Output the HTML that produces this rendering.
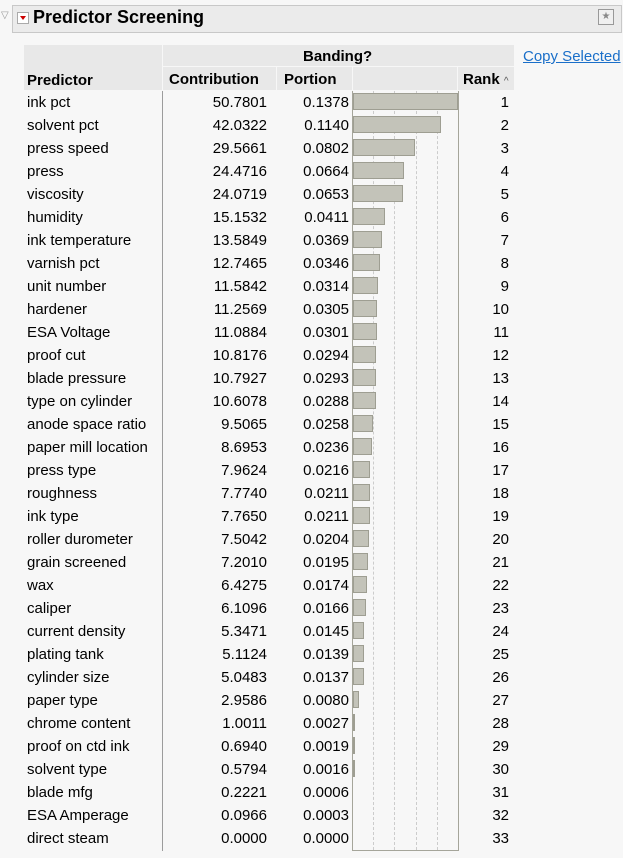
<!DOCTYPE html>
<html><head><meta charset="utf-8"><style>
body{margin:0;width:623px;height:858px;background:#f7f7f7;font-family:"Liberation Sans",sans-serif;font-size:15px;color:#000;position:relative;overflow:hidden}
.a{position:absolute}
.hdr{left:12px;top:5px;width:608px;height:26px;background:#ebebeb;border:1px solid #c8c8c8}
.title{left:33px;top:7px;font-size:18px;font-weight:bold}
.hc{background:#e8e8e8;position:absolute}
.b{font-weight:bold}
.row{position:absolute;left:24px;height:23px;width:490px;line-height:23px}
.row span{position:absolute}
.n{left:3px}
.c{right:247px;text-align:right}
.p{right:165px;text-align:right}
.r{right:5px;text-align:right}
.bar{position:absolute;left:329px;top:2px;height:17px;background:#c3c3b9;border:1px solid #9e9e92;box-sizing:border-box}
</style></head><body>
<div class="a" style="left:1px;top:10px;color:#999;font-size:10px">▽</div>
<div class="a hdr"></div>
<div class="a" style="left:17px;top:12px;width:12px;height:12px;border:1px solid #aaa;background:#fff;box-sizing:border-box"><div style="margin:3px 0 0 2px;width:0;height:0;border-left:3px solid transparent;border-right:3px solid transparent;border-top:4px solid #c00"></div></div>
<div class="a title">Predictor Screening</div>
<div class="a" style="left:598px;top:9px;width:16px;height:16px;border:1px solid #999;background:#f0f0f0;box-sizing:border-box;font-size:10px;color:#888;text-align:center;line-height:14px">★</div>

<div class="hc" style="left:24px;top:45px;width:138px;height:45px"></div>
<div class="hc" style="left:163px;top:45px;width:351px;height:21px"></div>
<div class="hc" style="left:163px;top:67px;width:113px;height:23px"></div>
<div class="hc" style="left:277px;top:67px;width:75px;height:23px"></div>
<div class="hc" style="left:353px;top:67px;width:104px;height:23px"></div>
<div class="hc" style="left:458px;top:67px;width:56px;height:23px"></div>
<div class="a b" style="left:303px;top:48px">Banding?</div>
<div class="a b" style="left:27px;top:72px">Predictor</div>
<div class="a b" style="left:169px;top:71px">Contribution</div>
<div class="a b" style="left:284px;top:71px">Portion</div>
<div class="a b" style="left:463px;top:71px">Rank <span style="font-weight:normal;font-size:10px;color:#555">^</span></div>
<div class="a" style="left:523px;top:48px;color:#1a6fc9;text-decoration:underline;font-size:15px">Copy Selected</div>
<div class="a" style="left:162px;top:91px;width:1px;height:760px;background:#9c9c9c"></div>

<div class="a" style="left:352px;top:91px;width:105px;height:759px;border:1px solid #a5a59a;border-top:none;box-sizing:content-box"></div>
<div class="a" style="left:373px;top:91px;height:759px;border-left:1px dashed #ccc"></div>
<div class="a" style="left:394px;top:91px;height:759px;border-left:1px dashed #ccc"></div>
<div class="a" style="left:416px;top:91px;height:759px;border-left:1px dashed #ccc"></div>
<div class="a" style="left:437px;top:91px;height:759px;border-left:1px dashed #ccc"></div>

<div class="row" style="top:91px"><span class="n">ink pct</span><span class="c">50.7801</span><span class="p">0.1378</span><div class="bar" style="width:105px"></div><span class="r">1</span></div>
<div class="row" style="top:114px"><span class="n">solvent pct</span><span class="c">42.0322</span><span class="p">0.1140</span><div class="bar" style="width:88px"></div><span class="r">2</span></div>
<div class="row" style="top:137px"><span class="n">press speed</span><span class="c">29.5661</span><span class="p">0.0802</span><div class="bar" style="width:62px"></div><span class="r">3</span></div>
<div class="row" style="top:160px"><span class="n">press</span><span class="c">24.4716</span><span class="p">0.0664</span><div class="bar" style="width:51px"></div><span class="r">4</span></div>
<div class="row" style="top:183px"><span class="n">viscosity</span><span class="c">24.0719</span><span class="p">0.0653</span><div class="bar" style="width:50px"></div><span class="r">5</span></div>
<div class="row" style="top:206px"><span class="n">humidity</span><span class="c">15.1532</span><span class="p">0.0411</span><div class="bar" style="width:32px"></div><span class="r">6</span></div>
<div class="row" style="top:229px"><span class="n">ink temperature</span><span class="c">13.5849</span><span class="p">0.0369</span><div class="bar" style="width:29px"></div><span class="r">7</span></div>
<div class="row" style="top:252px"><span class="n">varnish pct</span><span class="c">12.7465</span><span class="p">0.0346</span><div class="bar" style="width:27px"></div><span class="r">8</span></div>
<div class="row" style="top:275px"><span class="n">unit number</span><span class="c">11.5842</span><span class="p">0.0314</span><div class="bar" style="width:25px"></div><span class="r">9</span></div>
<div class="row" style="top:298px"><span class="n">hardener</span><span class="c">11.2569</span><span class="p">0.0305</span><div class="bar" style="width:24px"></div><span class="r">10</span></div>
<div class="row" style="top:321px"><span class="n">ESA Voltage</span><span class="c">11.0884</span><span class="p">0.0301</span><div class="bar" style="width:24px"></div><span class="r">11</span></div>
<div class="row" style="top:344px"><span class="n">proof cut</span><span class="c">10.8176</span><span class="p">0.0294</span><div class="bar" style="width:23px"></div><span class="r">12</span></div>
<div class="row" style="top:367px"><span class="n">blade pressure</span><span class="c">10.7927</span><span class="p">0.0293</span><div class="bar" style="width:23px"></div><span class="r">13</span></div>
<div class="row" style="top:390px"><span class="n">type on cylinder</span><span class="c">10.6078</span><span class="p">0.0288</span><div class="bar" style="width:23px"></div><span class="r">14</span></div>
<div class="row" style="top:413px"><span class="n">anode space ratio</span><span class="c">9.5065</span><span class="p">0.0258</span><div class="bar" style="width:20px"></div><span class="r">15</span></div>
<div class="row" style="top:436px"><span class="n">paper mill location</span><span class="c">8.6953</span><span class="p">0.0236</span><div class="bar" style="width:19px"></div><span class="r">16</span></div>
<div class="row" style="top:459px"><span class="n">press type</span><span class="c">7.9624</span><span class="p">0.0216</span><div class="bar" style="width:17px"></div><span class="r">17</span></div>
<div class="row" style="top:482px"><span class="n">roughness</span><span class="c">7.7740</span><span class="p">0.0211</span><div class="bar" style="width:17px"></div><span class="r">18</span></div>
<div class="row" style="top:505px"><span class="n">ink type</span><span class="c">7.7650</span><span class="p">0.0211</span><div class="bar" style="width:17px"></div><span class="r">19</span></div>
<div class="row" style="top:528px"><span class="n">roller durometer</span><span class="c">7.5042</span><span class="p">0.0204</span><div class="bar" style="width:16px"></div><span class="r">20</span></div>
<div class="row" style="top:551px"><span class="n">grain screened</span><span class="c">7.2010</span><span class="p">0.0195</span><div class="bar" style="width:15px"></div><span class="r">21</span></div>
<div class="row" style="top:574px"><span class="n">wax</span><span class="c">6.4275</span><span class="p">0.0174</span><div class="bar" style="width:14px"></div><span class="r">22</span></div>
<div class="row" style="top:597px"><span class="n">caliper</span><span class="c">6.1096</span><span class="p">0.0166</span><div class="bar" style="width:13px"></div><span class="r">23</span></div>
<div class="row" style="top:620px"><span class="n">current density</span><span class="c">5.3471</span><span class="p">0.0145</span><div class="bar" style="width:11px"></div><span class="r">24</span></div>
<div class="row" style="top:643px"><span class="n">plating tank</span><span class="c">5.1124</span><span class="p">0.0139</span><div class="bar" style="width:11px"></div><span class="r">25</span></div>
<div class="row" style="top:666px"><span class="n">cylinder size</span><span class="c">5.0483</span><span class="p">0.0137</span><div class="bar" style="width:11px"></div><span class="r">26</span></div>
<div class="row" style="top:689px"><span class="n">paper type</span><span class="c">2.9586</span><span class="p">0.0080</span><div class="bar" style="width:6px"></div><span class="r">27</span></div>
<div class="row" style="top:712px"><span class="n">chrome content</span><span class="c">1.0011</span><span class="p">0.0027</span><div class="bar" style="width:2px"></div><span class="r">28</span></div>
<div class="row" style="top:735px"><span class="n">proof on ctd ink</span><span class="c">0.6940</span><span class="p">0.0019</span><div class="bar" style="width:2px"></div><span class="r">29</span></div>
<div class="row" style="top:758px"><span class="n">solvent type</span><span class="c">0.5794</span><span class="p">0.0016</span><div class="bar" style="width:1px"></div><span class="r">30</span></div>
<div class="row" style="top:781px"><span class="n">blade mfg</span><span class="c">0.2221</span><span class="p">0.0006</span><span class="r">31</span></div>
<div class="row" style="top:804px"><span class="n">ESA Amperage</span><span class="c">0.0966</span><span class="p">0.0003</span><span class="r">32</span></div>
<div class="row" style="top:827px"><span class="n">direct steam</span><span class="c">0.0000</span><span class="p">0.0000</span><span class="r">33</span></div>
</body></html>
